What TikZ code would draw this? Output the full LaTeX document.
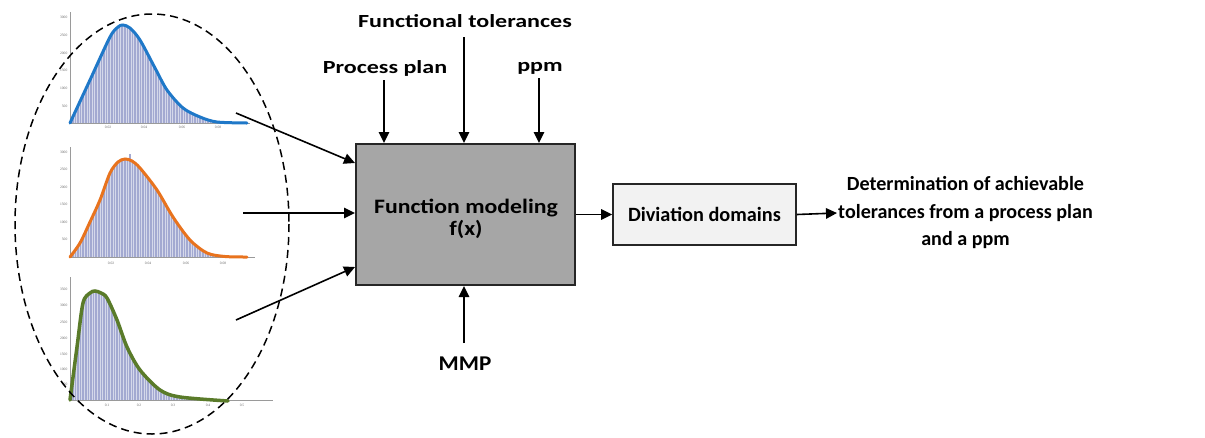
\documentclass[tikz,border=0pt]{standalone}
\usepackage{fontspec}
\setmainfont{Carlito}
\newfontfamily\tickfont{Liberation Serif}
\newfontfamily\topfont[FakeStretch=1.3]{Carlito}
\newfontfamily\mmpfont[FakeStretch=1.1]{Carlito}
\newfontfamily\boxfont[FakeStretch=1.16]{Carlito}
\usetikzlibrary{arrows.meta}
\definecolor{boxgray}{HTML}{A6A6A6}
\definecolor{lightbox}{HTML}{F2F2F2}
\definecolor{barcol}{HTML}{A3A9D1}
\definecolor{cblue}{HTML}{1F78C8}
\definecolor{corange}{HTML}{E8731E}
\definecolor{cgreen}{HTML}{5A7B2A}
\definecolor{axisgray}{HTML}{9A9A9A}
\begin{document}
\begin{tikzpicture}[x=1pt,y=-1pt,
  lbl/.style={font=\topfont\fontsize{18.5}{22}\selectfont\bfseries, inner sep=1pt},
  mainbox/.style={draw=black!85, line width=2pt, fill=boxgray},
  maintext/.style={font=\boxfont\fontsize{20.5}{22}\selectfont\bfseries, align=center, inner sep=0pt},
  ddbox/.style={draw=black!85, line width=1.8pt, fill=lightbox, font=\fontsize{20.3}{23}\selectfont\bfseries},
  arr/.style={line width=1.6pt, -{Triangle[length=11pt,width=10.5pt]}},
  tick/.style={font=\tickfont\fontsize{3.6}{4}\selectfont, text=black!60, inner sep=0.5pt},
  axis/.style={draw=axisgray, line width=0.5pt},
  hatch/.style={white, opacity=0.55, line width=0.45pt}]
\useasboundingbox (0,0) rectangle (1205,437);
\fill[white] (0,0) rectangle (1205,437);

% ---------- chart 1 ----------
\fill[barcol] plot[smooth] coordinates {(70,123) (90,80) (110,37) (118,27) (123,25) (130,28) (140,40) (155,68) (167,90) (183,108) (200,117) (217,122) (247,123)} -- cycle;
\begin{scope}
\clip plot[smooth] coordinates {(70,123) (90,80) (110,37) (118,27) (123,25) (130,28) (140,40) (155,68) (167,90) (183,108) (200,117) (217,122) (247,123)} -- cycle;
\foreach \x in {71.3,73.9,...,250} \draw[hatch] (\x,0) -- (\x,130);
\end{scope}
\draw[axis] (70,123) -- (70,12);
\draw[axis] (70,123) -- (250,123);
\draw[cblue, line width=3pt, line cap=round] plot[smooth] coordinates {(70,123) (90,80) (110,37) (118,27) (123,25) (130,28) (140,40) (155,68) (167,90) (183,108) (200,117) (217,122) (247,123)};
\foreach \y/\t in {17/3000,35/2500,53/2000,70/1500,88/1000,106/500} \node[tick, anchor=east] at (68,\y) {\t};
\foreach \x/\t in {108/0.02,144/0.04,182/0.06,218/0.08} \node[tick] at (\x,127) {\t};

% ---------- chart 2 ----------
\fill[barcol] plot[smooth] coordinates {(70,257) (80,243) (90,222) (100,200) (110,173) (118,162) (125,159) (132,161) (140,168) (157,190) (173,217) (190,240) (207,253) (225,256.5) (247,257)} -- cycle;
\begin{scope}
\clip plot[smooth] coordinates {(70,257) (80,243) (90,222) (100,200) (110,173) (118,162) (125,159) (132,161) (140,168) (157,190) (173,217) (190,240) (207,253) (225,256.5) (247,257)} -- cycle;
\foreach \x in {71.3,73.9,...,250} \draw[hatch] (\x,140) -- (\x,262);
\end{scope}
\fill[barcol] (128.5,154) rectangle (131,160);
\draw[axis] (70,257) -- (70,147);
\draw[axis] (70,257) -- (255,257);
\draw[corange, line width=3pt, line cap=round] plot[smooth] coordinates {(70,257) (80,243) (90,222) (100,200) (110,173) (118,162) (125,159) (132,161) (140,168) (157,190) (173,217) (190,240) (207,253) (225,256.5) (247,257)};
\foreach \y/\t in {152/3000,169.5/2500,187/2000,204.5/1500,222/1000,239.5/500} \node[tick, anchor=east] at (68,\y) {\t};
\foreach \x/\t in {111/0.02,148/0.04,186/0.06,223/0.08} \node[tick] at (\x,263) {\t};

% ---------- chart 3 ----------
\fill[barcol] plot[smooth] coordinates {(70,400) (77,347) (83,303) (90,293) (95,291) (101,293) (107,298) (117,320) (127,347) (140,370) (160,390) (180,397) (228,401)} -- cycle;
\begin{scope}
\clip plot[smooth] coordinates {(70,400) (77,347) (83,303) (90,293) (95,291) (101,293) (107,298) (117,320) (127,347) (140,370) (160,390) (180,397) (228,401)} -- cycle;
\foreach \x in {71.3,73.9,...,240} \draw[hatch] (\x,280) -- (\x,405);
\end{scope}
\draw[axis] (70,400) -- (70,277);
\draw[axis] (70,400) -- (273,400);
\draw[cgreen, line width=3.5pt, line cap=round] plot[smooth] coordinates {(70,400) (77,347) (83,303) (90,293) (95,291) (101,293) (107,298) (117,320) (127,347) (140,370) (160,390) (180,397) (228,401)};
\foreach \y/\t in {289/3500,305/3000,322/2500,338/2000,354/1500,369/1000,384/500} \node[tick, anchor=east] at (68,\y) {\t};
\foreach \x/\t in {107/0.1,139/0.2,173/0.3,208/0.4,242/0.5} \node[tick] at (\x,405) {\t};

% ---------- dashed ellipse ----------
\draw[line width=1.5pt, dash pattern=on 8pt off 5pt] (152,224) ellipse [x radius=137, y radius=210];

% ---------- boxes ----------
\node[mainbox, minimum width=219pt, minimum height=141pt] (fm) at (465.5,214.5) {};
\node[maintext] (fmt) at (466,219) {Function modeling\\f(x)};
\node[ddbox, minimum width=183pt, minimum height=61pt] (dd) at (704.5,214.5) {Diviation domains};

% ---------- labels ----------
\node[lbl, anchor=base] (pp) at (385,73) {Process plan};
\node[lbl, anchor=base] (ft) at (465,27) {Functional tolerances};
\node[lbl, anchor=base] (ppm) at (540,71) {ppm};
\node[lbl, anchor=base, font=\mmpfont\fontsize{21}{24}\selectfont\bfseries] (mmp) at (465,370) {MMP};
\node[lbl, align=center, anchor=west, font=\fontsize{20.1}{27.5}\selectfont\bfseries] (res) at (837,213) {Determination of achievable\\tolerances from a process plan\\and a ppm};

% ---------- connectors ----------
\coordinate (s1) at (236,113);
\coordinate (s2) at (243,213);
\coordinate (s3) at (236,320);
\draw[arr] (s1) -- ([yshift=-20pt]fm.north west);
\draw[arr] (s2) -- (fm.west |- s2);
\draw[arr] (s3) -- ([yshift=19pt]fm.south west);
\draw[arr, shorten <=3pt] ([xshift=-1pt]pp.south) -- ([xshift=-1pt]pp.south |- fm.north);
\draw[arr, shorten <=9pt] ([xshift=-1pt]ft.south) -- ([xshift=-1pt]ft.south |- fm.north);
\draw[arr, shorten <=3pt] ([xshift=-1pt]ppm.south) -- ([xshift=-1pt]ppm.south |- fm.north);
\draw[arr, shorten <=12pt] ([xshift=-1pt]mmp.north) -- ([xshift=-1pt]mmp.north |- fm.south);
\draw[arr] (fm.east |- dd.west) -- (dd.west);
\draw[arr] (dd.east) -- (res.west);
\end{tikzpicture}
\end{document}
